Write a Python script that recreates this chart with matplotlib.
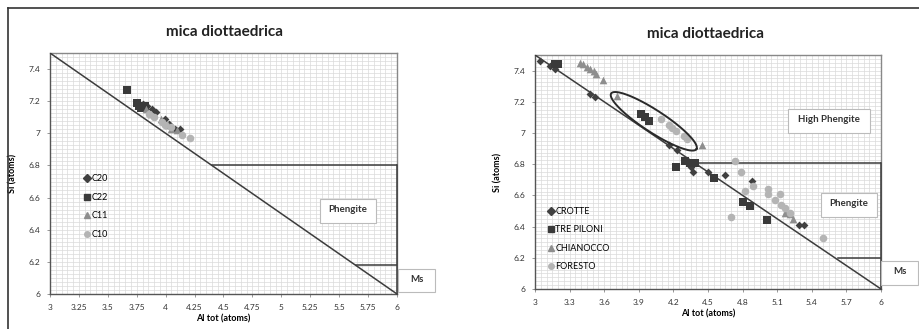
import matplotlib
matplotlib.use('Agg')
import numpy as np
import matplotlib.pyplot as plt
from matplotlib.ticker import MultipleLocator, FormatStrFormatter
from matplotlib.patches import Rectangle
from matplotlib.lines import Line2D

plt.rcParams['font.family'] = ['Lato', 'DejaVu Sans']

# left panel data
c20_x = [3.80, 3.84, 3.88, 3.92, 3.99, 4.03, 4.08, 4.12]
c20_y = [7.18, 7.17, 7.15, 7.13, 7.09, 7.06, 7.03, 7.03]
c22_x = [3.67, 3.75, 3.77, 3.79, 3.82]
c22_y = [7.27, 7.19, 7.17, 7.16, 7.17]
c11_x = [3.83, 3.87, 3.96, 4.02, 4.05, 4.10]
c11_y = [7.15, 7.12, 7.09, 7.05, 7.03, 7.02]
c10_x = [3.86, 3.90, 3.97, 3.99, 4.05, 4.14, 4.21]
c10_y = [7.12, 7.10, 7.07, 7.05, 7.04, 6.99, 6.97]

# right panel data
crotte_x = [3.04, 3.13, 3.17, 3.48, 3.52, 4.16, 4.23, 4.35, 4.37, 4.50,
            4.65, 4.88, 5.29, 5.33]
crotte_y = [7.46, 7.43, 7.41, 7.25, 7.23, 6.92, 6.89, 6.78, 6.75, 6.75,
            6.73, 6.69, 6.41, 6.41]
trepiloni_x = [3.17, 3.20, 3.92, 3.95, 3.99, 4.22, 4.30, 4.34, 4.39, 4.55,
               4.80, 4.86, 5.01]
trepiloni_y = [7.44, 7.44, 7.12, 7.10, 7.08, 6.78, 6.82, 6.81, 6.81, 6.71,
               6.56, 6.53, 6.44]
chianocco_x = [3.39, 3.42, 3.45, 3.48, 3.51, 3.53, 3.59, 3.71, 4.45, 5.17,
               5.21, 5.24]
chianocco_y = [7.45, 7.44, 7.42, 7.41, 7.40, 7.38, 7.34, 7.24, 6.92, 6.49,
               6.48, 6.45]
foresto_x = [4.09, 4.16, 4.19, 4.22, 4.29, 4.32, 4.73, 4.79, 4.82, 4.89,
             4.70, 5.02, 5.02, 5.12, 5.08, 5.13, 5.17, 5.21, 5.50]
foresto_y = [7.09, 7.05, 7.03, 7.01, 6.98, 6.96, 6.82, 6.75, 6.63, 6.66,
             6.46, 6.64, 6.61, 6.61, 6.57, 6.54, 6.52, 6.49, 6.33]

# boundary lines
diag_x = [3, 6]
diag_y = [7.5, 6]
left_phen_y, left_phen_x0 = 6.80, 4.40
left_ms_y, left_ms_x0 = 6.18, 5.645
right_phen_y, right_phen_x0 = 6.81, 4.40
right_ms_y, right_ms_x0 = 6.20, 5.63

# ellipse around group (data units)
ell_center = (4.03, 7.075)
ell_major = (0.37, -0.178)
ell_minor = (0.05, 0.06)

line_col = '#3c3c3c'
styles = [dict(marker='D', color='#404040', s=16),
          dict(marker='s', color='#3a3a3a', s=30),
          dict(marker='^', color='#8e8e8e', s=30),
          dict(marker='o', color='#b4b4b4', s=30)]


def setup_axes(ax, xstep):
    ax.set_xlim(3, 6)
    ax.set_ylim(6, 7.5)
    ax.xaxis.set_major_locator(MultipleLocator(xstep))
    ax.yaxis.set_major_locator(MultipleLocator(0.2))
    ax.xaxis.set_major_formatter(FormatStrFormatter('%g'))
    ax.yaxis.set_major_formatter(FormatStrFormatter('%g'))
    ax.xaxis.set_minor_locator(MultipleLocator(0.05))
    ax.yaxis.set_minor_locator(MultipleLocator(0.025))
    ax.grid(which='both', color='#dadada', lw=0.5)
    ax.set_axisbelow(True)
    ax.tick_params(which='minor', length=0)
    ax.tick_params(which='major', length=2, width=0.6, labelsize=6,
                   pad=5, color='#888888', labelcolor='#333333')
    for s in ['left', 'bottom']:
        ax.spines[s].set_color('#555555')
        ax.spines[s].set_linewidth(1.0)
    for s in ['top', 'right']:
        ax.spines[s].set_color('#888888')
        ax.spines[s].set_linewidth(1.0)
    ax.set_xlabel('Al tot (atoms)', fontsize=6.5, fontweight='bold', labelpad=3)
    ax.set_ylabel('Si (atoms)', fontsize=6.5, fontweight='bold', labelpad=8)


def add_box(ax, x0, y0, x1, y1, text):
    ax.add_patch(Rectangle((x0, y0), x1 - x0, y1 - y0, transform=ax.transAxes,
                           fc='white', ec='#bbbbbb', lw=0.8, clip_on=False,
                           zorder=5))
    ax.text((x0 + x1) / 2, (y0 + y1) / 2 + 0.005, text,
            transform=ax.transAxes, fontsize=7, fontweight='bold',
            color='#333333', va='center', ha='center', zorder=6,
            clip_on=False)


def draw_panel(ax, series, labels, xstep, phen, ms, legend_anchor):
    setup_axes(ax, xstep)
    ax.plot(diag_x, diag_y, color=line_col, lw=1.1, zorder=3)
    ax.plot([phen[1], 6.0], [phen[0], phen[0]], color=line_col, lw=1.1,
            zorder=3)
    ax.plot([ms[1], 6.0], [ms[0], ms[0]], color=line_col, lw=1.1, zorder=3)
    ax.plot([6, 6], [6, phen[0]], color=line_col, lw=1.1, zorder=3,
            clip_on=False)
    handles = []
    for (xs, ys), st, lab in zip(series, styles, labels):
        ax.scatter(xs, ys, marker=st['marker'], color=st['color'],
                   s=st['s'], linewidths=0, zorder=4)
        handles.append(Line2D([], [], ls='none', marker=st['marker'],
                              color=st['color'], markersize=4, label=lab))
    ax.legend(handles=handles, loc='upper left', bbox_to_anchor=legend_anchor,
              frameon=False, fontsize=6.5, handlelength=0.6,
              handletextpad=0.2, labelspacing=1.05, borderpad=0)


fig = plt.figure(figsize=(9.2, 3.29), dpi=100)

# outer frame of the image
fig.add_artist(Line2D([8 / 920, 1], [1 - 8 / 329, 1 - 8 / 329],
                      color='#333333', lw=1.2))
fig.add_artist(Line2D([8 / 920, 8 / 920], [0, 1 - 8 / 329],
                      color='#333333', lw=1.2))

ax1 = fig.add_axes([50 / 920, 35 / 329, 347 / 920, 241 / 329])
draw_panel(ax1, [(c20_x, c20_y), (c22_x, c22_y), (c11_x, c11_y),
                 (c10_x, c10_y)],
           ['C20', 'C22', 'C11', 'C10'], 0.25,
           (left_phen_y, left_phen_x0), (left_ms_y, left_ms_x0),
           (0.085, 0.515))
add_box(ax1, 0.778, 0.295, 0.939, 0.394, 'Phengite')
add_box(ax1, 1.003, 0.008, 1.110, 0.104, 'Ms')
fig.text(0.244, 0.903, 'mica diottaedrica', ha='center', va='center',
         fontsize=11, fontweight='bold', color='#222222')

ax2 = fig.add_axes([535 / 920, 40 / 329, 346 / 920, 234 / 329])
draw_panel(ax2, [(crotte_x, crotte_y), (trepiloni_x, trepiloni_y),
                 (chianocco_x, chianocco_y), (foresto_x, foresto_y)],
           ['CROTTE', 'TRE PILONI', 'CHIANOCCO', 'FORESTO'], 0.3,
           (right_phen_y, right_phen_x0), (right_ms_y, right_ms_x0),
           (0.025, 0.37))
add_box(ax2, 0.731, 0.667, 0.968, 0.769, 'High Phengite')
add_box(ax2, 0.827, 0.308, 0.988, 0.410, 'Phengite')
add_box(ax2, 1.0, 0.017, 1.107, 0.120, 'Ms')
fig.text(0.767, 0.897, 'mica diottaedrica', ha='center', va='center',
         fontsize=11, fontweight='bold', color='#222222')

t = np.linspace(0, 2 * np.pi, 200)
ex = ell_center[0] + ell_major[0] * np.cos(t) + ell_minor[0] * np.sin(t)
ey = ell_center[1] + ell_major[1] * np.cos(t) + ell_minor[1] * np.sin(t)
ax2.plot(ex, ey, color='#2a2a2a', lw=1.4, zorder=5)

plt.savefig('out.png', dpi=100)
